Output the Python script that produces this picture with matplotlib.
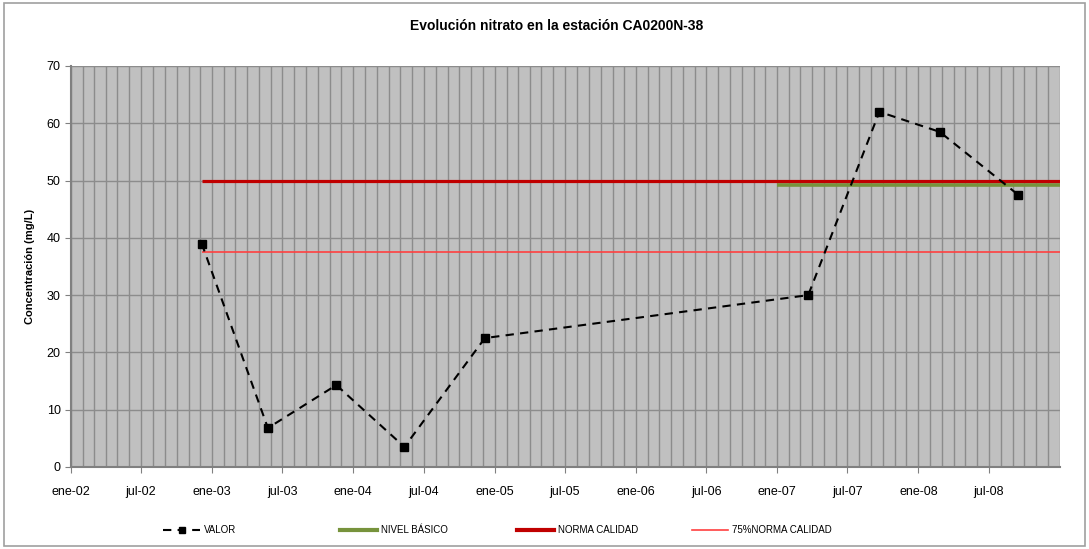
import matplotlib
matplotlib.use("Agg")
import matplotlib.pyplot as plt
import matplotlib.dates as mdates
from matplotlib.lines import Line2D
from matplotlib.patches import Rectangle
from datetime import datetime

plt.rcParams['font.family'] = ['Liberation Sans', 'DejaVu Sans']

# ---- data ----
fechas = ["2002-12-05", "2003-05-25", "2003-11-18", "2004-05-12", "2004-12-06",
          "2007-03-22", "2007-09-22", "2008-02-25", "2008-09-15"]
valor = [39.0, 6.8, 14.3, 3.5, 22.5, 30.0, 62.0, 58.5, 47.5]

norma_fechas = ["2002-12-05", "2009-01-01"]
norma = [50.0, 50.0]
norma75 = [37.5, 37.5]
nivel_fechas = ["2007-01-01", "2009-01-01"]
nivel_basico = [49.3, 49.3]

xticks = ["2002-01-01", "2002-07-01", "2003-01-01", "2003-07-01", "2004-01-01",
          "2004-07-01", "2005-01-01", "2005-07-01", "2006-01-01", "2006-07-01",
          "2007-01-01", "2007-07-01", "2008-01-01", "2008-07-01"]
xticklabels = ["ene-02", "jul-02", "ene-03", "jul-03", "ene-04", "jul-04", "ene-05",
               "jul-05", "ene-06", "jul-06", "ene-07", "jul-07", "ene-08", "jul-08"]
yticks = [0, 10, 20, 30, 40, 50, 60, 70]

title = "Evolución nitrato en la estación CA0200N-38"
ylabel = "Concentración (mg/L)"

d = lambda s: [datetime.strptime(x, "%Y-%m-%d") for x in s]

fig = plt.figure(figsize=(10.89, 5.49), dpi=100)
fig.patches.append(Rectangle((0.004, 0.006), 0.992, 0.988, transform=fig.transFigure,
                             fill=False, edgecolor="#A0A0A0", linewidth=1.2))
ax = fig.add_axes([0.0652, 0.1494, 0.9082, 0.7304])
ax.set_facecolor("#C0C0C0")

c_norma = "#C00000"
c_nivel = "#77933C"
c_75 = "#FF4040"

ax.plot(d(nivel_fechas), nivel_basico, color=c_nivel, lw=2.6, solid_capstyle="butt", zorder=3)
ax.plot(d(norma_fechas), norma, color=c_norma, lw=2.3, solid_capstyle="butt", zorder=4)
ax.plot(d(norma_fechas), norma75, color=c_75, lw=1.2, solid_capstyle="butt", zorder=4)
ax.plot(d(fechas), valor, color="black", lw=1.5, ls=(0, (4, 3)), marker="s",
        markersize=6, zorder=5)

ax.set_xlim(datetime(2002, 1, 1), datetime(2009, 1, 1))
ax.set_ylim(0, 70)
ax.set_yticks(yticks)
ax.set_xticks(d(xticks))
ax.set_xticklabels(xticklabels)
ax.xaxis.set_minor_locator(mdates.MonthLocator())
ax.grid(True, which="both", axis="x", color="#8C8C8C", lw=1)
ax.grid(True, which="major", axis="y", color="#8C8C8C", lw=1)
ax.set_axisbelow(True)
ax.tick_params(axis="both", which="major", labelsize=9, length=4, color="#808080",
               direction="out")
ax.tick_params(axis="x", which="minor", length=0)
ax.tick_params(axis="x", pad=10)
for s in ["top", "right"]:
    ax.spines[s].set_visible(False)
for s in ["left", "bottom"]:
    ax.spines[s].set_color("#808080")
    ax.spines[s].set_linewidth(1.5)

fig.text(0.511, 0.953, title, ha="center", va="center", fontsize=10, fontweight="bold")
ax.set_ylabel(ylabel, fontsize=8, fontweight="bold", labelpad=8)

# legend entries placed individually
entries = [
    (Line2D([], [], color="black", lw=1.5, ls=(0, (4, 3)), marker="s", markersize=5), "VALOR", 0.150),
    (Line2D([], [], color=c_nivel, lw=3), "NIVEL BÁSICO", 0.312),
    (Line2D([], [], color=c_norma, lw=3), "NORMA CALIDAD", 0.475),
    (Line2D([], [], color=c_75, lw=1.2), "75%NORMA CALIDAD", 0.635),
]
for h, lab, x in entries:
    fig.legend([h], [lab], loc="center left", bbox_to_anchor=(x, 0.034),
               frameon=False, fontsize=7, handlelength=3.8, handletextpad=0.4,
               borderpad=0, borderaxespad=0)

fig.savefig("out.png", dpi=100)
